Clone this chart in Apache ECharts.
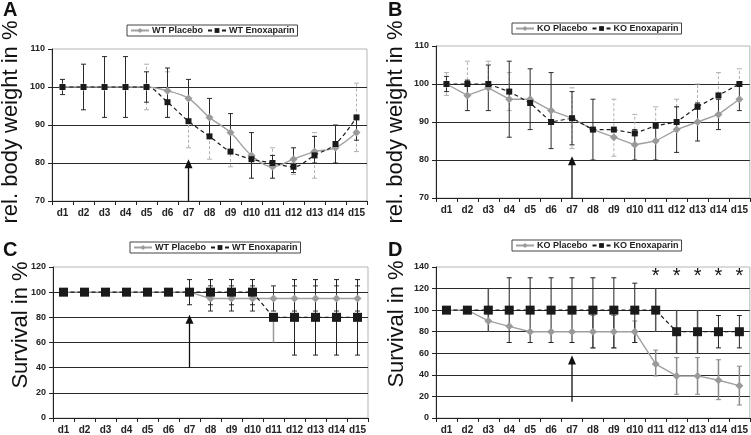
<!DOCTYPE html>
<html><head><meta charset="utf-8">
<script src="https://cdn.jsdelivr.net/npm/echarts@6.0.0/dist/echarts.min.js"></script>
<style>html,body{margin:0;padding:0;background:#fff}#c{width:751px;height:435px}</style>
</head><body><div id="c"></div>
<script>
// ---------- data ----------
const days = ['d1','d2','d3','d4','d5','d6','d7','d8','d9','d10','d11','d12','d13','d14','d15'];

// Panel A: WT body weight (%)
const wtPlaceboWeight = [100,100,100,100,100,99,97,92,88,82,79,81,83,84,88];
const wtEnoxWeight    = [100,100,100,100,100,96,91,87,83,81,80,79,82,85,92];
const wtWeightBarLow   = [98,94,92,92,96,92,91,87,83,76,76,77.5,80,80,86];
const wtWeightBarHigh  = [102,106,108,108,104,105,102,97,93,88,82,84,87,90,92];
const wtWeightDashLow  = [null,null,null,null,94,92,84,81,79,null,79,77,76,null,83];
const wtWeightDashHigh = [null,null,null,null,106,104,91,87,83,null,84,80,88,null,101];

// Panel B: KO body weight (%)
const koPlaceboWeight = [100,97,99,96,96,93,91,88,86,84,85,88,90,92,96];
const koEnoxWeight    = [100,100,100,98,95,90,91,88,88,87,89,90,94,97,100];
const koWeightBarLow   = [98,93,93,86,88,83,84,80,null,80,80,82,85,88,93];
const koWeightBarHigh  = [102,101,105,106,104,103,98,96,null,88,89,94,95,96,100];
const koWeightDashLow  = [97,101,100,93,null,null,83,null,81,88,89,94,95,96,100];
const koWeightDashHigh = [103,106,106,103,null,null,99,null,96,92,94,96,100,103,104];

// Panel C: WT survival (%)
const wtPlaceboSurv = [100,100,100,100,100,100,100,95,95,95,95,95,95,95,95];
const wtEnoxSurv    = [100,100,100,100,100,100,100,100,100,100,80,80,80,80,80];
const wtEnoxSurvLow   = [null,null,null,null,null,null,90,90,90,90,null,50,50,50,50];
const wtEnoxSurvHigh  = [null,null,null,null,null,null,110,110,110,110,null,110,110,110,110];
const wtPlaceboSurvLow  = [null,null,null,null,null,null,null,85,85,85,85,85,85,85,85];
const wtPlaceboSurvHigh = [null,null,null,null,null,null,null,105,105,105,105,105,105,105,105];
const wtEnoxSurvGrayLow  = [null,null,null,null,null,null,null,null,null,null,60,null,null,null,null];
const wtEnoxSurvGrayHigh = [null,null,null,null,null,null,null,null,null,null,80,null,null,null,null];

// Panel D: KO survival (%)
const koPlaceboSurv = [100,100,90,85,80,80,80,80,80,80,50,39,39,35,30];
const koEnoxSurv    = [100,100,100,100,100,100,100,100,100,100,100,80,80,80,80];
const koEnoxSurvLow   = [null,null,null,70,70,70,70,65,65,70,null,null,null,65,65];
const koEnoxSurvHigh  = [null,null,null,130,130,130,130,130,130,125,null,null,null,95,95];
const koEnoxSurvLineLow  = [null,null,80,null,null,null,null,null,null,null,80,60,60,null,null];
const koEnoxSurvLineHigh = [null,null,120,null,null,null,null,null,null,null,120,100,100,null,null];
const koPlaceboSurvLow  = [null,null,null,null,null,null,null,65,65,70,39,22,22,17,12];
const koPlaceboSurvHigh = [null,null,null,null,null,null,null,95,95,90,63,56,56,54,48];
const koSignificantDays = ['d11','d12','d13','d14','d15'];
const asteriskLevel = 134;

// treatment arrows (day, from, to)
const arrowA = ['d7', 70, 81];
const arrowB = ['d7', 70, 81];
const arrowC = ['d7', 40, 82];
const arrowD = ['d7', 15, 58];

// ---------- build ----------
const FONT = '"Liberation Sans", Arial, sans-serif';

function pairs(low, high) {
  const out = [];
  for (let i = 0; i < days.length; i++) {
    if (low[i] != null && high[i] != null) out.push([days[i], low[i], high[i]]);
  }
  return out;
}

function errSeries(idx, low, high, st) {
  return {
    type: 'custom', xAxisIndex: idx, yAxisIndex: idx, z: 2, silent: true,
    encode: { x: 0, y: [1, 2] },
    data: pairs(low, high),
    renderItem: function (params, api) {
      const x = api.value(0);
      const p1 = api.coord([x, api.value(1)]);
      const p2 = api.coord([x, api.value(2)]);
      const s = { stroke: st.color, lineWidth: st.width, lineDash: st.dash || null };
      const ch = [{ type: 'line', shape: { x1: p1[0], y1: p1[1], x2: p2[0], y2: p2[1] }, style: s }];
      if (st.cap) {
        const w = 2.5;
        ch.push({ type: 'line', shape: { x1: p1[0] - w, y1: p1[1], x2: p1[0] + w, y2: p1[1] }, style: { stroke: st.color, lineWidth: 1 } });
        ch.push({ type: 'line', shape: { x1: p2[0] - w, y1: p2[1], x2: p2[0] + w, y2: p2[1] }, style: { stroke: st.color, lineWidth: 1 } });
      }
      return { type: 'group', children: ch };
    }
  };
}

function arrowSeries(idx, arr) {
  return {
    type: 'custom', xAxisIndex: idx, yAxisIndex: idx, z: 6, silent: true,
    encode: { x: 0, y: [1, 2] },
    data: [arr],
    renderItem: function (params, api) {
      const x = api.value(0);
      const p1 = api.coord([x, api.value(1)]);
      const p2 = api.coord([x, api.value(2)]);
      const hh = 9, hw = 4;
      return { type: 'group', children: [
        { type: 'line', shape: { x1: p1[0], y1: p1[1], x2: p2[0], y2: p2[1] + hh - 1 }, style: { stroke: '#111', lineWidth: 1.3 } },
        { type: 'polygon', shape: { points: [[p2[0], p2[1]], [p2[0] - hw, p2[1] + hh], [p2[0] + hw, p2[1] + hh]] }, style: { fill: '#111' } }
      ] };
    }
  };
}

function lineSeries(idx, name, data, kind, opts) {
  const isP = kind === 'placebo';
  return {
    type: 'line', name: name, xAxisIndex: idx, yAxisIndex: idx, z: 5,
    data: data, smooth: opts.smooth || false,
    symbol: isP ? 'diamond' : 'rect',
    symbolSize: isP ? 8 : opts.enoxSize,
    showAllSymbol: true,
    itemStyle: { color: isP ? '#9a9a9a' : '#1a1a1a' },
    lineStyle: isP ? { color: '#a0a0a0', width: 1.4 } : { color: '#1a1a1a', width: 1.2, type: [4, 3] }
  };
}

const panels = [
  { grid: { left: 52, top: 49, width: 315, height: 152 }, y: [70, 110, 10],
    names: ['WT Placebo', 'WT Enoxaparin'], placebo: wtPlaceboWeight, enox: wtEnoxWeight,
    smooth: 0.35, enoxSize: 6, legend: { left: 127, top: 25 }, arrow: arrowA,
    bars: [[wtWeightDashLow, wtWeightDashHigh, { color: '#b0b0b0', width: 1, dash: [3, 2], cap: true }],
           [wtWeightBarLow, wtWeightBarHigh, { color: '#2a2a2a', width: 1, cap: true }]] },
  { grid: { left: 436, top: 46, width: 314, height: 152 }, y: [70, 110, 10],
    names: ['KO Placebo', 'KO Enoxaparin'], placebo: koPlaceboWeight, enox: koEnoxWeight,
    smooth: false, enoxSize: 6, legend: { left: 512, top: 23 }, arrow: arrowB,
    bars: [[koWeightDashLow, koWeightDashHigh, { color: '#b0b0b0', width: 1, dash: [3, 2], cap: true }],
           [koWeightBarLow, koWeightBarHigh, { color: '#2a2a2a', width: 1, cap: true }]] },
  { grid: { left: 53, top: 267, width: 315, height: 151 }, y: [0, 120, 20],
    names: ['WT Placebo', 'WT Enoxaparin'], placebo: wtPlaceboSurv, enox: wtEnoxSurv,
    smooth: false, enoxSize: 9, legend: { left: 130, top: 242 }, arrow: arrowC,
    bars: [[wtEnoxSurvGrayLow, wtEnoxSurvGrayHigh, { color: '#9a9a9a', width: 1.5, cap: false }],
           [wtPlaceboSurvLow, wtPlaceboSurvHigh, { color: '#333', width: 1, cap: true }],
           [wtEnoxSurvLow, wtEnoxSurvHigh, { color: '#222', width: 1, cap: true }]] },
  { grid: { left: 436, top: 267, width: 314, height: 151 }, y: [0, 140, 20],
    names: ['KO Placebo', 'KO Enoxaparin'], placebo: koPlaceboSurv, enox: koEnoxSurv,
    smooth: false, enoxSize: 9, legend: { left: 512, top: 240 }, arrow: arrowD,
    bars: [[koEnoxSurvLineLow, koEnoxSurvLineHigh, { color: '#555', width: 1.5, cap: false }],
           [koPlaceboSurvLow, koPlaceboSurvHigh, { color: '#8a8a8a', width: 1.5, cap: true }],
           [koEnoxSurvLow, koEnoxSurvHigh, { color: '#222', width: 1, cap: true }]],
    stars: true }
];

const option = { animation: false, grid: [], xAxis: [], yAxis: [], series: [], legend: [], graphic: [] };

panels.forEach(function (p, i) {
  option.grid.push(Object.assign({ show: true, borderColor: '#b5b5b5', borderWidth: 1, backgroundColor: 'transparent' }, p.grid));
  option.xAxis.push({
    type: 'category', gridIndex: i, data: days, boundaryGap: true,
    axisLine: { lineStyle: { color: '#222', width: 1 } },
    axisTick: { show: true, length: 4, lineStyle: { color: '#222' } },
    axisLabel: { color: '#222', fontSize: 10, fontWeight: 'bold', fontFamily: FONT, margin: 7, interval: 0 },
    splitLine: { show: false }
  });
  option.yAxis.push({
    type: 'value', gridIndex: i, min: p.y[0], max: p.y[1], interval: p.y[2],
    axisLine: { show: true, lineStyle: { color: '#222', width: 1 } },
    axisTick: { show: true, length: 4, lineStyle: { color: '#222' } },
    axisLabel: { color: '#222', fontSize: 9, fontWeight: 'bold', fontFamily: FONT, margin: 7 },
    splitLine: { show: true, showMaxLine: false, lineStyle: { color: '#2a2a2a', width: 1 } }
  });
  p.bars.forEach(function (b) { option.series.push(errSeries(i, b[0], b[1], b[2])); });
  option.series.push(lineSeries(i, p.names[0], p.placebo, 'placebo', p));
  option.series.push(lineSeries(i, p.names[1], p.enox, 'enox', p));
  option.series.push(arrowSeries(i, p.arrow));
  if (p.stars) {
    option.series.push({
      type: 'custom', xAxisIndex: i, yAxisIndex: i, z: 6, silent: true,
      data: koSignificantDays.map(function (d) { return [d, asteriskLevel]; }),
      renderItem: function (params, api) {
        const c = api.coord([api.value(0), api.value(1)]);
        return { type: 'text', x: c[0], y: c[1] + 3, style: { text: '*', fontSize: 20, fontFamily: FONT, fill: '#111', align: 'center', verticalAlign: 'middle' } };
      }
    });
  }
  option.legend.push({
    left: p.legend.left, top: p.legend.top, data: p.names, orient: 'horizontal',
    itemWidth: 18, itemHeight: 6, itemGap: 4, padding: [1, 3, 1, 3],
    borderColor: '#444', borderWidth: 1, selectedMode: false,
    textStyle: { color: '#222', fontSize: 9, fontWeight: 'bold', fontFamily: FONT, padding: [0, 0, 0, -2] }
  });
});

// panel letters and axis titles
const letters = [['A', 3, 0], ['B', 388, 0], ['C', 3, 240], ['D', 388, 240]];
letters.forEach(function (l) {
  option.graphic.push({ type: 'text', x: l[1], y: l[2], style: { text: l[0], font: 'bold 20px ' + FONT, fill: '#111' } });
});
const titles = [['rel. body weight in %', 11, 122], ['rel. body weight in %', 396, 122], ['Survival in %', 21, 325], ['Survival in %', 397, 324]];
titles.forEach(function (t) {
  option.graphic.push({ type: 'text', x: t[1], y: t[2], rotation: Math.PI / 2,
    style: { text: t[0], font: '22px ' + FONT, fill: '#111', align: 'center', verticalAlign: 'middle' } });
});

const chart = echarts.init(document.getElementById('c'), null, { renderer: 'canvas' });
chart.setOption(option);
</script></body></html>
